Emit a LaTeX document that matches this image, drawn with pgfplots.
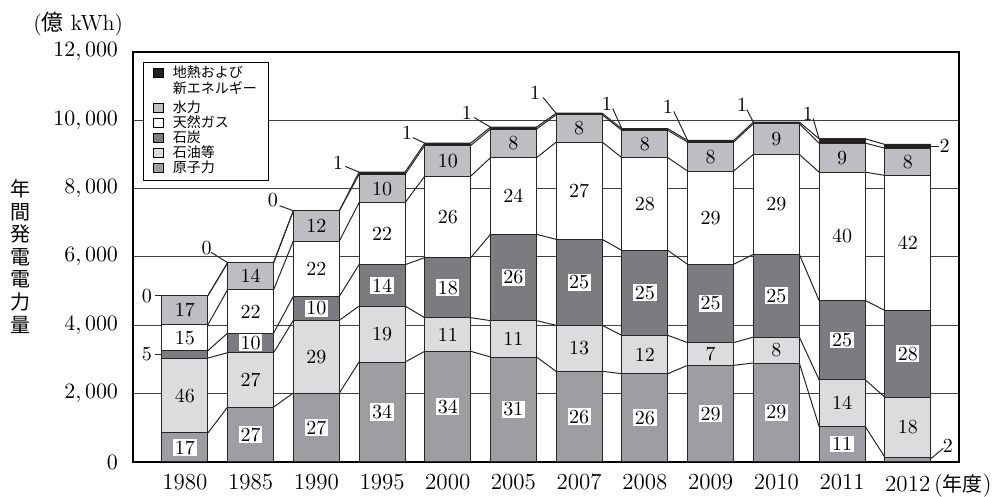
\documentclass[border=0pt]{standalone}
\usepackage{fontspec}
\usepackage{pgfplots}
\usepackage{pgfplotstable}
\pgfplotsset{compat=1.18}
\newfontfamily\cjk{Noto Sans CJK JP}

\definecolor{cNuc}{RGB}{158,158,162}
\definecolor{cOil}{RGB}{220,220,222}
\definecolor{cCoal}{RGB}{124,124,128}
\definecolor{cHyd}{RGB}{190,190,194}
\definecolor{cGas}{RGB}{255,255,255}
\definecolor{cGeo}{RGB}{35,31,32}

% segment values (億kWh), each year twice: left edge (s=-1) and right edge (s=1)
\pgfplotstableread{
i  s   nuc  oil  coal gas  hyd geo pn po pc pg ph
0  -1  849  2194 216  761  848 0   17 46 5  15 17
0   1  849  2194 216  761  848 0   17 46 5  15 17
1  -1  1609 1591 574  1269 790 0   27 27 10 22 14
1   1  1609 1591 574  1269 790 0   27 27 10 22 14
2  -1  2019 2127 702  1620 885 0   27 29 10 22 12
2   1  2019 2127 702  1620 885 0   27 29 10 22 12
3  -1  2926 1638 1211 1814 828 68  34 19 14 22 10
3   1  2926 1638 1211 1814 828 68  34 19 14 22 10
4  -1  3239 985  1756 2388 898 68  34 11 18 26 10
4   1  3239 985  1756 2388 898 68  34 11 18 26 10
5  -1  3073 1064 2525 2244 837 58  31 11 26 24 8
5   1  3073 1064 2525 2244 837 58  31 11 26 24 8
6  -1  2653 1347 2516 2847 800 45  26 13 25 27 8
6   1  2653 1347 2516 2847 800 45  26 13 25 27 8
7  -1  2585 1122 2486 2713 799 48  26 12 25 28 8
7   1  2585 1122 2486 2713 799 48  26 12 25 28 8
8  -1  2829 664  2291 2731 848 49  29 7  25 29 8
8   1  2829 664  2291 2731 848 49  29 7  25 29 8
9  -1  2897 760  2420 2925 898 48  29 8  25 29 9
9   1  2897 760  2420 2925 898 48  29 8  25 29 9
10 -1  1045 1365 2321 3754 849 127 11 14 25 40 9
10  1  1045 1365 2321 3754 849 127 11 14 25 40 9
11 -1  146  1756 2536 3950 799 108 2  18 28 42 8
11  1  146  1756 2536 3950 799 108 2  18 28 42 8
}\dbl
\pgfplotstablecreatecol[create col/expr={\thisrow{nuc}}]{c1}\dbl
\pgfplotstablecreatecol[create col/expr={\thisrow{c1}+\thisrow{oil}}]{c2}\dbl
\pgfplotstablecreatecol[create col/expr={\thisrow{c2}+\thisrow{coal}}]{c3}\dbl
\pgfplotstablecreatecol[create col/expr={\thisrow{c3}+\thisrow{gas}}]{c4}\dbl
\pgfplotstablecreatecol[create col/expr={\thisrow{c4}+\thisrow{hyd}}]{c5}\dbl
\pgfplotstablecreatecol[create col/expr={\thisrow{c5}+\thisrow{geo}}]{c6}\dbl
\pgfplotstablecreatecol[create col/expr={\thisrow{nuc}/2}]{m1}\dbl
\pgfplotstablecreatecol[create col/expr={\thisrow{c1}+\thisrow{oil}/2}]{m2}\dbl
\pgfplotstablecreatecol[create col/expr={\thisrow{c2}+\thisrow{coal}/2}]{m3}\dbl
\pgfplotstablecreatecol[create col/expr={\thisrow{c3}+\thisrow{gas}/2}]{m4}\dbl
\pgfplotstablecreatecol[create col/expr={\thisrow{c4}+\thisrow{hyd}/2}]{m5}\dbl

\newcommand\lblfont{\fontsize{10}{12}\selectfont}
\pgfplotsset{
  sqlegend/.style={legend image code/.code={\draw[##1, line width=0.5pt, draw=black] (0pt,0pt) rectangle (4.6pt,4.6pt);}},
  barst/.style={fill=#1, draw=black!85, line width=0.5pt, bar shift=0pt, each nth point=2, filter discard warning=false, sqlegend},
  conn/.style={sharp plot, forget plot, mark=none, draw=black!85, line width=0.5pt},
  lbls/.style={sharp plot, draw=none, mark=none, forget plot, bar shift=0pt, each nth point=2, filter discard warning=false,
     nodes near coords, point meta=explicit symbolic, nodes near coords align=center,
     every node near coord/.append style={anchor=center, xshift=0pt, yshift=0pt, font=\lblfont, inner sep=0.8pt#1}},
}

\begin{document}
\begin{tikzpicture}
\begin{axis}[
  scale only axis, width=413pt, height=205pt, at={(0pt,0pt)}, anchor=south west,
  xmin=-0.79, xmax=11.78, ymin=0, ymax=12000, enlargelimits=false,
  ybar, bar width=0.70,
  xtick={0,...,11},
  xticklabels={1980,1985,1990,1995,2000,2005,2007,2008,2009,2010,2011,{2012\rlap{\,({\cjk\fontsize{10}{12}\selectfont 年度})}}},
  ytick={0,2000,...,12000},
  scaled y ticks=false,
  yticklabel style={/pgf/number format/1000 sep={,}, font=\fontsize{11.3}{13}\selectfont, xshift=-4pt},
  xticklabel style={font=\fontsize{11.5}{13}\selectfont, yshift=-2.5pt},
  major tick length=0pt,
  ymajorgrids, grid style={black!75, line width=0.5pt},
  axis line style={black, line width=0.6pt},
  ylabel={年\\間\\発\\電\\電\\力\\量},
  ylabel style={rotate=-90, align=center, font=\cjk\fontsize{10}{11.3}\selectfont, at={(axis description cs:-0.1356,0.5012)}, anchor=center},
  legend cell align=left,
  legend style={at={(0.0121,0.9756)}, anchor=north west, draw=black, line width=0.5pt, fill=white,
     font=\cjk\fontsize{7}{6.3}\selectfont, inner xsep=5pt, inner ysep=2pt, row sep=0pt, column sep=3.6pt,
     cells={anchor=base west}, nodes={inner xsep=1pt, inner ysep=0.5pt, text height=5.2pt, text depth=1.3pt}},
  clip=false,
]
% connector lines between bars
\addplot[conn] table[x expr=\thisrow{i}+0.35*\thisrow{s}, y=c1]{\dbl};
\addplot[conn] table[x expr=\thisrow{i}+0.35*\thisrow{s}, y=c2]{\dbl};
\addplot[conn] table[x expr=\thisrow{i}+0.35*\thisrow{s}, y=c3]{\dbl};
\addplot[conn] table[x expr=\thisrow{i}+0.35*\thisrow{s}, y=c4]{\dbl};
\addplot[conn] table[x expr=\thisrow{i}+0.35*\thisrow{s}, y=c5]{\dbl};
\addplot[conn] table[x expr=\thisrow{i}+0.35*\thisrow{s}, y=c6]{\dbl};
% bars, drawn from the tallest cumulative level down
\addplot[barst=cGeo] table[x=i, y=c6]{\dbl};
\addlegendentry[text depth=11.3pt]{\begin{tabular}[t]{@{}l@{}}地熱および\\新エネルギー\end{tabular}}
\addplot[barst=cHyd] table[x=i, y=c5]{\dbl};
\addlegendentry{水力}
\addplot[barst=cGas] table[x=i, y=c4]{\dbl};
\addlegendentry{天然ガス}
\addplot[barst=cCoal] table[x=i, y=c3]{\dbl};
\addlegendentry{石炭}
\addplot[barst=cOil] table[x=i, y=c2]{\dbl};
\addlegendentry{石油等}
\addplot[barst=cNuc] table[x=i, y=c1]{\dbl};
\addlegendentry{原子力}
% percentage labels
\addplot[lbls={,fill=white}, skip coords between index={22}{24}] table[x=i, y=m1, meta=pn]{\dbl};
\addplot[lbls={}] table[x=i, y=m2, meta=po]{\dbl};
\addplot[lbls={,fill=white}, skip coords between index={0}{2}] table[x=i, y=m3, meta=pc]{\dbl};
\addplot[lbls={}] table[x=i, y=m4, meta=pg]{\dbl};
\addplot[lbls={}] table[x=i, y=m5, meta=ph]{\dbl};
% callout leader lines
\addplot[conn] coordinates {(-0.46,4868) (-0.35,4868)};
\addplot[conn] coordinates {(0.40,6135) (0.65,5833)};
\addplot[conn] coordinates {(1.44,7500) (1.65,7353)};
\addplot[conn] coordinates {(2.44,8651) (2.65,8485)};
\addplot[conn] coordinates {(3.47,9494) (3.65,9334)};
\addplot[conn] coordinates {(4.40,10085) (4.65,9801)};
\addplot[conn] coordinates {(5.45,10670) (5.65,10202)};
\addplot[conn] coordinates {(6.51,10348) (6.65,9753)};
\addplot[conn] coordinates {(7.44,10260) (7.65,9412)};
\addplot[conn] coordinates {(8.55,10319) (8.65,9948)};
\addplot[conn] coordinates {(9.56,10055) (9.65,9461)};
\addplot[conn] coordinates {(11.35,9241) (11.48,9241)};
\addplot[conn] coordinates {(-0.46,3151) (-0.35,3151)};
\addplot[conn] coordinates {(11.34,79) (11.54,401)};
% callout texts
\node[font=\lblfont] at (-0.58,4868) {0};
\node[font=\lblfont] at (0.33,6252) {0};
\node[font=\lblfont] at (1.34,7655) {0};
\node[font=\lblfont] at (2.33,8768) {1};
\node[font=\lblfont] at (3.38,9646) {1};
\node[font=\lblfont] at (4.29,10231) {1};
\node[font=\lblfont] at (5.33,10806) {1};
\node[font=\lblfont] at (6.42,10494) {1};
\node[font=\lblfont] at (7.35,10406) {1};
\node[font=\lblfont] at (8.48,10465) {1};
\node[font=\lblfont] at (9.48,10201) {1};
\node[font=\lblfont] at (11.56,9241) {2};
\node[font=\lblfont] at (-0.58,3151) {5};
\node[font=\lblfont] at (11.61,486) {2};
\end{axis}
\node[font=\fontsize{11}{12}\selectfont, anchor=west, inner sep=0pt] at (-50pt,219pt) {({\cjk 億}\ kWh)};
\pgfresetboundingbox
\useasboundingbox (-66.5pt,-17.5pt) rectangle (434pt,231pt);
\end{tikzpicture}
\end{document}
